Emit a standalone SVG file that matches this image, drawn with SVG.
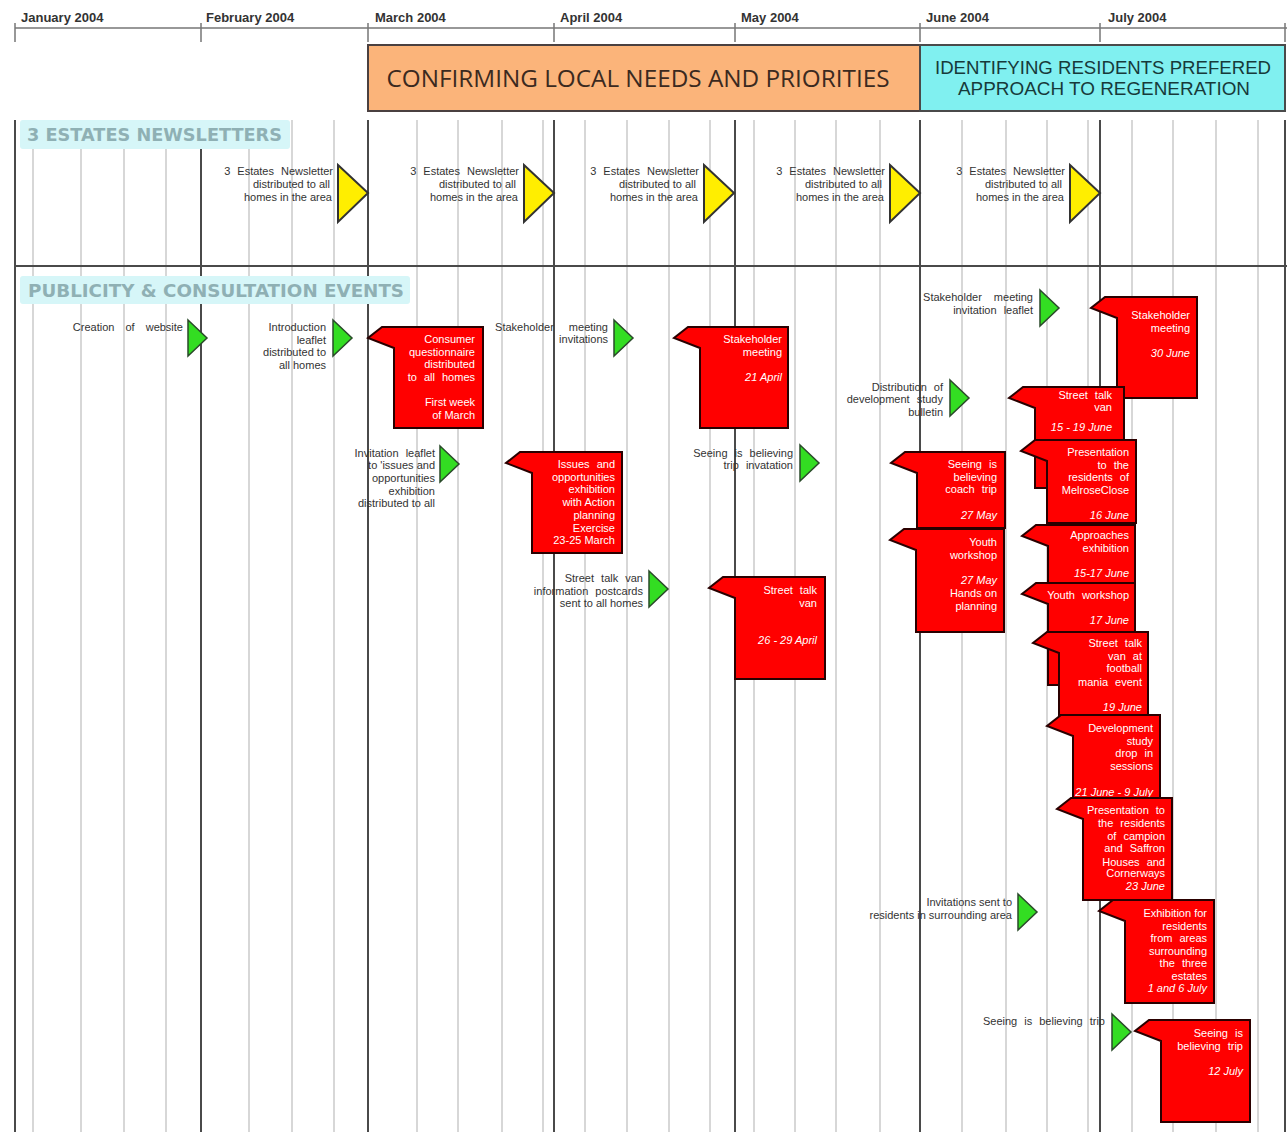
<svg xmlns="http://www.w3.org/2000/svg" width="1287" height="1132" viewBox="0 0 1287 1132">
<style>
.lt{stroke:#cacaca;stroke-width:1.5;fill:none}
.dk{stroke:#4a4a4a;stroke-width:2;fill:none}
.tl{stroke:#777;stroke-width:1.5;fill:none}
.mon{font-family:"Liberation Sans",Arial,sans-serif;font-weight:bold;font-size:13px;fill:#333}
.ph{font-family:"Open Sans","Liberation Sans",sans-serif;font-size:24px;text-anchor:middle}
.ph2{font-family:"Liberation Sans",Arial,sans-serif;font-size:18px;text-anchor:middle;fill:#173a3a}
.lab{font-family:"DejaVu Sans","Liberation Sans",sans-serif;font-weight:bold;font-size:17px;fill:#8fb0b4}
.labbg{fill:#d6f6f8}
.tx{font-family:"Liberation Sans",Arial,sans-serif;font-size:11px;fill:#333;text-anchor:end}
.wt{font-family:"Liberation Sans",Arial,sans-serif;font-size:11px;fill:#fff;text-anchor:end}
.i{font-style:italic}
.ws{word-spacing:4px}
.red{fill:#ff0000;stroke:#2a0000;stroke-width:2;stroke-linejoin:miter}
.grn{fill:#33dd22;stroke:#2a4a2a;stroke-width:1.5}
.yel{fill:#ffee00;stroke:#333;stroke-width:2}
</style>
<rect width="1287" height="1132" fill="#fff"/>
<g id="grid">
<path class="lt" d="M33 120V1132M81 120V1132M124 120V1132M166 120V1132M249 120V1132M292 120V1132M334 120V1132M417 120V1132M458 120V1132M502 120V1132M543 120V1132M585 120V1132M627 120V1132M669 120V1132M710 120V1132M754 120V1132M795 120V1132M836 120V1132M880 120V1132M962 120V1132M1006 120V1132M1047 120V1132M1088 120V1132M1132 120V1132M1173 120V1132M1216 120V1132M1258 120V1132"/>
<path class="dk" d="M15 120V1132M201 120V1132M368 120V1132M554 120V1132M735 120V1132M920 120V1132M1100 120V1132M1285 120V1132"/>
<path class="dk" d="M15 266H1287"/>
</g>
<g id="timeline">
<path class="tl" d="M15 28H1287M15 23V42M201 23V42M368 23V42M554 23V42M735 23V42M920 23V42M1100 23V42M1285 23V42"/>
<text class="mon" x="21" y="22">January 2004</text>
<text class="mon" x="206" y="22">February 2004</text>
<text class="mon" x="375" y="22">March 2004</text>
<text class="mon" x="560" y="22">April 2004</text>
<text class="mon" x="741" y="22">May 2004</text>
<text class="mon" x="926" y="22">June 2004</text>
<text class="mon" x="1108" y="22">July 2004</text>
</g>
<g id="phase-confirming">
<rect x="368" y="45" width="552" height="66" fill="#fbb47a" stroke="#4a4040" stroke-width="2"/>
<text class="ph" x="638" y="87" fill="#3b2a1f" textLength="503" lengthAdjust="spacingAndGlyphs">CONFIRMING LOCAL NEEDS AND PRIORITIES</text>
</g>
<g id="phase-identifying">
<rect x="920" y="45" width="365" height="66" fill="#80f0f0" stroke="#4a4a4a" stroke-width="2"/>
<text class="ph2" x="1103" y="74" textLength="336" lengthAdjust="spacingAndGlyphs">IDENTIFYING RESIDENTS PREFERED</text>
<text class="ph2" x="1104" y="95" textLength="292" lengthAdjust="spacingAndGlyphs">APPROACH TO REGENERATION</text>
</g>
<g id="label-newsletters">
<rect class="labbg" x="20" y="120" width="270" height="29" rx="3"/>
<text class="lab" x="27" y="141" textLength="255" lengthAdjust="spacingAndGlyphs">3 ESTATES NEWSLETTERS</text>
</g>
<g id="label-publicity">
<rect class="labbg" x="20" y="276" width="390" height="28" rx="3"/>
<text class="lab" x="28" y="297" textLength="376" lengthAdjust="spacingAndGlyphs">PUBLICITY &amp; CONSULTATION EVENTS</text>
</g>
<g id="newsletter-1">
<polygon class="yel" points="338,165 368,193 338,222"/>
<text class="tx"><tspan class="ws" x="333" y="175">3 Estates Newsletter</tspan><tspan x="330" y="188">distributed to all</tspan><tspan x="332" y="201">homes in the area</tspan></text>
</g>
<g id="newsletter-2">
<polygon class="yel" points="524,165 554,193 524,222"/>
<text class="tx"><tspan class="ws" x="519" y="175">3 Estates Newsletter</tspan><tspan x="516" y="188">distributed to all</tspan><tspan x="518" y="201">homes in the area</tspan></text>
</g>
<g id="newsletter-3">
<polygon class="yel" points="704,165 734,193 704,222"/>
<text class="tx"><tspan class="ws" x="699" y="175">3 Estates Newsletter</tspan><tspan x="696" y="188">distributed to all</tspan><tspan x="698" y="201">homes in the area</tspan></text>
</g>
<g id="newsletter-4">
<polygon class="yel" points="890,165 920,193 890,222"/>
<text class="tx"><tspan class="ws" x="885" y="175">3 Estates Newsletter</tspan><tspan x="882" y="188">distributed to all</tspan><tspan x="884" y="201">homes in the area</tspan></text>
</g>
<g id="newsletter-5">
<polygon class="yel" points="1070,165 1100,193 1070,222"/>
<text class="tx"><tspan class="ws" x="1065" y="175">3 Estates Newsletter</tspan><tspan x="1062" y="188">distributed to all</tspan><tspan x="1064" y="201">homes in the area</tspan></text>
</g>
<g id="pub-website">
<polygon class="grn" points="188,320 207,338 188,356"/>
<text class="tx"><tspan x="183" y="331" style="word-spacing:8px">Creation of website</tspan></text>
</g>
<g id="pub-intro-leaflet">
<polygon class="grn" points="333,320 352,338 333,356"/>
<text class="tx"><tspan x="326" y="331">Introduction</tspan><tspan x="326" y="344">leaflet</tspan><tspan x="326" y="356">distributed to</tspan><tspan x="326" y="369">all homes</tspan></text>
</g>
<g id="pub-stakeholder-invitations">
<polygon class="grn" points="614,320 633,338 614,356"/>
<text class="tx"><tspan x="608" y="331" style="word-spacing:12px">Stakeholder meeting</tspan><tspan x="608" y="343">invitations</tspan></text>
</g>
<g id="pub-invitation-leaflet">
<polygon class="grn" points="440,446 459,464 440,482"/>
<text class="tx"><tspan class="ws" x="435" y="457">Invitation leaflet</tspan><tspan x="435" y="469">to 'issues and</tspan><tspan x="435" y="482">opportunities</tspan><tspan x="435" y="495">exhibition</tspan><tspan x="435" y="507">distributed to all</tspan></text>
</g>
<g id="pub-seeing-invitation">
<polygon class="grn" points="800,445 819,463 800,481"/>
<text class="tx"><tspan class="ws" x="793" y="457">Seeing is believing</tspan><tspan class="ws" x="793" y="469">trip invatation</tspan></text>
</g>
<g id="pub-postcards">
<polygon class="grn" points="649,571 668,589 649,607"/>
<text class="tx"><tspan class="ws" x="643" y="582">Street talk van</tspan><tspan class="ws" x="643" y="595">information postcards</tspan><tspan x="643" y="607">sent to all homes</tspan></text>
</g>
<g id="pub-stakeholder-leaflet">
<polygon class="grn" points="1040,290 1059,308 1040,326"/>
<text class="tx"><tspan x="1033" y="301" style="word-spacing:9px">Stakeholder meeting</tspan><tspan class="ws" x="1033" y="314">invitation leaflet</tspan></text>
</g>
<g id="pub-bulletin">
<polygon class="grn" points="950,380 969,398 950,416"/>
<text class="tx"><tspan class="ws" x="943" y="391">Distribution of</tspan><tspan class="ws" x="943" y="403">development study</tspan><tspan x="943" y="416">bulletin</tspan></text>
</g>
<g id="pub-invitations-surrounding">
<polygon class="grn" points="1018,894 1037,912 1018,930"/>
<text class="tx"><tspan x="1012" y="906">Invitations sent to</tspan><tspan x="1012" y="919">residents in surrounding area</tspan></text>
</g>
<g id="pub-seeing-trip">
<polygon class="grn" points="1112,1014 1131,1032 1112,1050"/>
<text class="tx"><tspan class="ws" x="1105" y="1025">Seeing is believing trip</tspan></text>
</g>
<g id="ev-consumer-questionnaire">
<path class="red" d="M382,327H483V428H394V348L368,338Z"/>
<text class="wt"><tspan x="475" y="343">Consumer</tspan><tspan x="475" y="356">questionnaire</tspan><tspan x="475" y="368">distributed</tspan><tspan class="ws" x="475" y="381">to all homes</tspan><tspan x="475" y="406">First week</tspan><tspan x="475" y="419">of March</tspan></text>
</g>
<g id="ev-stakeholder-april">
<path class="red" d="M688,327H788V428H700V348L674,338Z"/>
<text class="wt"><tspan x="782" y="343">Stakeholder</tspan><tspan x="782" y="356">meeting</tspan><tspan class="i" x="782" y="381">21 April</tspan></text>
</g>
<g id="ev-issues-exhibition">
<path class="red" d="M520,452H622V553H532V473L506,463Z"/>
<text class="wt"><tspan class="ws" x="615" y="468">Issues and</tspan><tspan x="615" y="481">opportunities</tspan><tspan x="615" y="493">exhibition</tspan><tspan x="615" y="506">with Action</tspan><tspan x="615" y="519">planning</tspan><tspan x="615" y="532">Exercise</tspan><tspan x="615" y="544">23-25 March</tspan></text>
</g>
<g id="ev-street-talk-april">
<path class="red" d="M723,577H825V679H735V598L709,588Z"/>
<text class="wt"><tspan class="ws" x="817" y="594">Street talk</tspan><tspan x="817" y="607">van</tspan><tspan class="i" x="817" y="644">26 - 29 April</tspan></text>
</g>
<g id="ev-stakeholder-june">
<path class="red" d="M1105,297H1197V398H1117V318L1091,308Z"/>
<text class="wt"><tspan x="1190" y="319">Stakeholder</tspan><tspan x="1190" y="332">meeting</tspan><tspan class="i" x="1190" y="357">30 June</tspan></text>
</g>
<g id="ev-street-talk-june">
<path class="red" d="M1023,387H1124V488H1035V408L1009,398Z"/>
<text class="wt"><tspan class="ws" x="1112" y="399">Street talk</tspan><tspan x="1112" y="411">van</tspan><tspan class="i" x="1112" y="431">15 - 19 June</tspan></text>
</g>
<g id="ev-seeing-coach">
<path class="red" d="M905,452H1005V528H917V473L891,463Z"/>
<text class="wt"><tspan class="ws" x="997" y="468">Seeing is</tspan><tspan x="997" y="481">believing</tspan><tspan class="ws" x="997" y="493">coach trip</tspan><tspan class="i" x="997" y="519">27 May</tspan></text>
</g>
<g id="ev-presentation-melrose">
<path class="red" d="M1035,440H1136V523H1047V461L1021,451Z"/>
<text class="wt"><tspan x="1129" y="456">Presentation</tspan><tspan class="ws" x="1129" y="469">to the</tspan><tspan class="ws" x="1129" y="481">residents of</tspan><tspan x="1129" y="494">MelroseClose</tspan><tspan class="i" x="1129" y="519">16 June</tspan></text>
</g>
<g id="ev-youth-may">
<path class="red" d="M904,529H1004V632H916V550L890,540Z"/>
<text class="wt"><tspan x="997" y="546">Youth</tspan><tspan x="997" y="559">workshop</tspan><tspan class="i" x="997" y="584">27 May</tspan><tspan x="997" y="597">Hands on</tspan><tspan x="997" y="610">planning</tspan></text>
</g>
<g id="ev-approaches">
<path class="red" d="M1036,525H1135V583H1048V546L1022,536Z"/>
<text class="wt"><tspan x="1129" y="539">Approaches</tspan><tspan x="1129" y="552">exhibition</tspan><tspan class="i" x="1129" y="577">15-17 June</tspan></text>
</g>
<g id="ev-youth-june">
<path class="red" d="M1036,583H1135V685H1048V604L1022,594Z"/>
<text class="wt"><tspan class="ws" x="1129" y="599">Youth workshop</tspan><tspan class="i" x="1129" y="624">17 June</tspan></text>
</g>
<g id="ev-street-talk-football">
<path class="red" d="M1047,632H1148V715H1059V653L1033,643Z"/>
<text class="wt"><tspan class="ws" x="1142" y="647">Street talk</tspan><tspan class="ws" x="1142" y="660">van at</tspan><tspan x="1142" y="672">football</tspan><tspan class="ws" x="1142" y="686">mania event</tspan><tspan class="i" x="1142" y="711">19 June</tspan></text>
</g>
<g id="ev-development-dropin">
<path class="red" d="M1061,715H1160V798H1073V736L1047,726Z"/>
<text class="wt"><tspan x="1153" y="732">Development</tspan><tspan x="1153" y="745">study</tspan><tspan class="ws" x="1153" y="757">drop in</tspan><tspan x="1153" y="770">sessions</tspan><tspan class="i" x="1153" y="796">21 June - 9 July</tspan></text>
</g>
<g id="ev-presentation-campion">
<path class="red" d="M1071,798H1172V900H1083V819L1057,809Z"/>
<text class="wt"><tspan class="ws" x="1165" y="814">Presentation to</tspan><tspan class="ws" x="1165" y="827">the residents</tspan><tspan class="ws" x="1165" y="840">of campion</tspan><tspan class="ws" x="1165" y="852">and Saffron</tspan><tspan class="ws" x="1165" y="866">Houses and</tspan><tspan x="1165" y="877">Cornerways</tspan><tspan class="i" x="1165" y="890">23 June</tspan></text>
</g>
<g id="ev-exhibition-surrounding">
<path class="red" d="M1113,900H1214V1003H1125V921L1099,911Z"/>
<text class="wt"><tspan x="1207" y="917">Exhibition for</tspan><tspan x="1207" y="930">residents</tspan><tspan class="ws" x="1207" y="942">from areas</tspan><tspan x="1207" y="955">surrounding</tspan><tspan class="ws" x="1207" y="967">the three</tspan><tspan x="1207" y="980">estates</tspan><tspan class="i" x="1207" y="992">1 and 6 July</tspan></text>
</g>
<g id="ev-seeing-july">
<path class="red" d="M1149,1020H1250V1122H1161V1041L1135,1031Z"/>
<text class="wt"><tspan class="ws" x="1243" y="1037">Seeing is</tspan><tspan class="ws" x="1243" y="1050">believing trip</tspan><tspan class="i" x="1243" y="1075">12 July</tspan></text>
</g>
</svg>
